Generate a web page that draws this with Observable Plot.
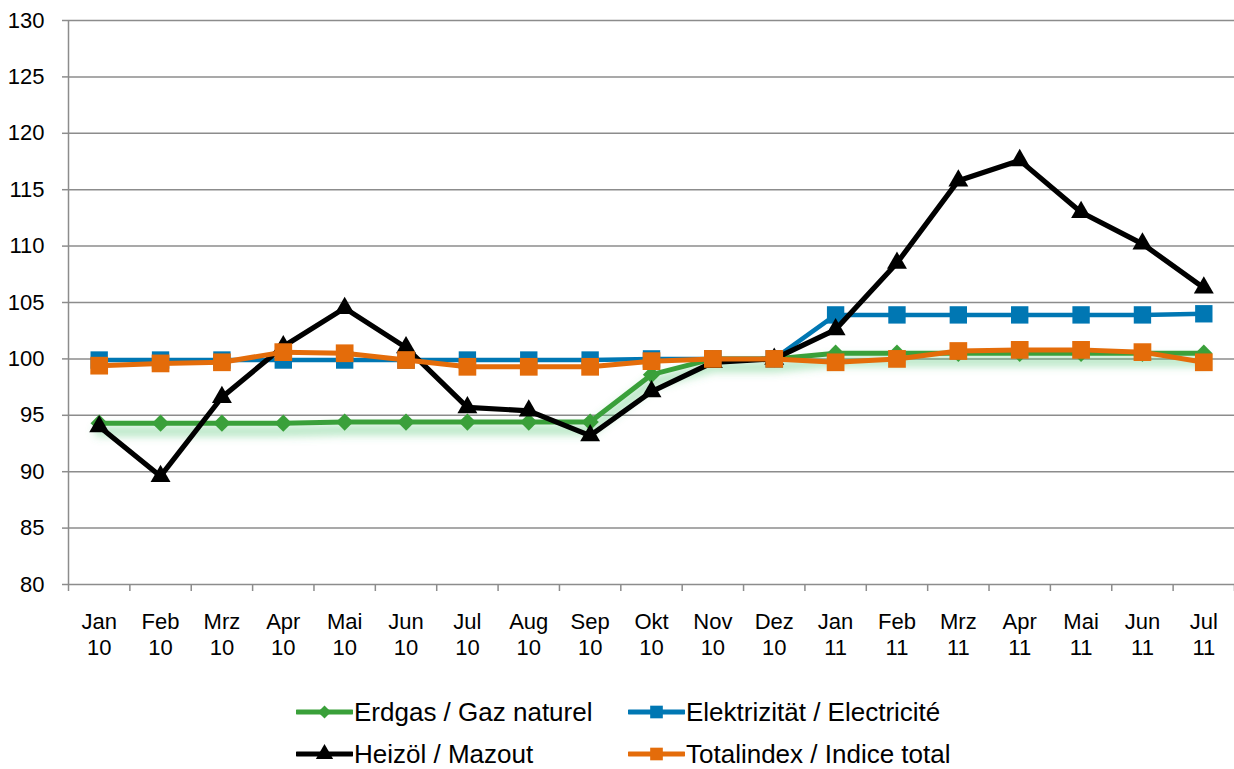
<!DOCTYPE html>
<html><head><meta charset="utf-8">
<script src="https://cdn.jsdelivr.net/npm/d3@7"></script>
<script src="https://cdn.jsdelivr.net/npm/@observablehq/plot@0.6"></script>
<style>
body{margin:0;background:#fff;font-family:"Liberation Sans",Arial,Helvetica,sans-serif;}
#wrap{position:relative;width:1234px;height:769px;overflow:hidden;background:#fff}
#legend{position:absolute;left:0;top:0;width:1234px;height:769px;pointer-events:none}
.item{position:absolute;display:flex;align-items:center;font-size:26px;color:#000;white-space:nowrap;height:30px;margin-top:-15px}
.item svg{margin-right:1px}
</style></head><body><div id="wrap"><div id="chart"></div><div id="legend"></div></div>
<script>
const months = ["Jan\n10","Feb\n10","Mrz\n10","Apr\n10","Mai\n10","Jun\n10","Jul\n10","Aug\n10","Sep\n10","Okt\n10","Nov\n10","Dez\n10","Jan\n11","Feb\n11","Mrz\n11","Apr\n11","Mai\n11","Jun\n11","Jul\n11"];
const seriesNames = ["Erdgas / Gaz naturel","Elektrizität / Electricité","Heizöl / Mazout","Totalindex / Indice total"];
const erdgas     = [94.3,94.3,94.3,94.3,94.4,94.4,94.4,94.4,94.4,98.6,100.0,100.0,100.5,100.5,100.5,100.5,100.5,100.5,100.5];
const elektrizitaet = [99.9,99.9,99.9,99.9,99.9,99.9,99.9,99.9,99.9,100.0,100.0,100.0,103.9,103.9,103.9,103.9,103.9,103.9,104.0];
const heizoel    = [94.0,89.6,96.6,101.1,104.5,101.0,95.7,95.4,93.2,97.1,99.7,100.0,102.6,108.5,115.8,117.6,113.0,110.2,106.3];
const totalindex = [99.4,99.6,99.7,100.6,100.5,99.9,99.3,99.3,99.3,99.8,100.0,100.0,99.7,100.0,100.7,100.8,100.8,100.6,99.7];
const yTicks = [80,85,90,95,100,105,110,115,120,125,130];

const seriesValues = [erdgas, elektrizitaet, heizoel, totalindex];
const styles = [
  {color:"#3AA03A", symbol:"diamond2", r:7.8, width:5, lsym:d3.symbolDiamond2, lsize:110},
  {color:"#0077B3", symbol:"square",   r:9.8, width:4.5, lsym:d3.symbolSquare, lsize:160},
  {color:"#000000", symbol:"triangle", r:7.4, width:5.2, lsym:d3.symbolTriangle, lsize:130},
  {color:"#E46C0A", symbol:"square",   r:10,  width:5, lsym:d3.symbolSquare, lsize:160}
];

const rows = seriesNames.map((name, s) => months.map((m, i) => ({i, v: seriesValues[s][i], name})));
const idx = months.map((m, i) => i);
const boundaries = months.map((m, i) => i - 0.5).concat([months.length - 0.5]);
const grey = "#8c8c8c";

const marks = [
  Plot.ruleY(yTicks, {stroke: grey, strokeWidth: 1.5}),
  Plot.ruleX([-0.5], {y1: yTicks[0], y2: yTicks[yTicks.length-1], stroke: grey, strokeWidth: 1.5}),
  Plot.axisY({ticks: yTicks, tickSize: 6, tickPadding: 18, stroke: grey, strokeWidth: 1.5, fill: "#000", fontSize: 22, label: null}),
  Plot.axisX(boundaries, {tickSize: 7, tickFormat: () => "", stroke: grey, strokeWidth: 1.5, label: null}),
  Plot.axisX(idx, {tickSize: 0, tickPadding: 25, tickFormat: i => months[i], fill: "#000", fontSize: 22, lineHeight: 1.22, label: null}),
  // soft green glow under Erdgas
  Plot.line(rows[0], {x: "i", y: "v", stroke: "#4cc46e", strokeWidth: 10, strokeOpacity: 0.42, dy: 8, ariaDescription: "glow"}),
];
rows.forEach((data, s) => {
  const st = styles[s];
  marks.push(Plot.line(data, {x: "i", y: "v", stroke: st.color, strokeWidth: st.width, strokeLinejoin: "round"}));
  marks.push(Plot.dot(data, {x: "i", y: "v", symbol: () => st.symbol, r: st.r, fill: st.color, stroke: "none"}));
});

const chart = Plot.plot({
  width: 1234, height: 670,
  marginLeft: 68, marginRight: 0, marginTop: 20, marginBottom: 86,
  x: {domain: [-0.5, months.length - 0.5], label: null},
  y: {domain: [yTicks[0], yTicks[yTicks.length-1]], label: null},
  symbol: {type: "identity"},
  style: {fontFamily: '"Liberation Sans", Arial, Helvetica, sans-serif', fontSize: "22px", background: "#fff", overflow: "visible"},
  marks
});
// blur filter for glow
const ns = "http://www.w3.org/2000/svg";
const defs = document.createElementNS(ns, "defs");
defs.innerHTML = '<filter id="glowblur" x="-5%" y="-50%" width="110%" height="200%"><feGaussianBlur stdDeviation="4"/></filter>';
chart.insertBefore(defs, chart.firstChild);
const g = chart.querySelector('[aria-description="glow"]');
if (g) g.setAttribute("filter", "url(#glowblur)");
document.getElementById("chart").appendChild(chart);

// legend
const legend = document.getElementById("legend");
const pos = [[296,712],[628,712],[296,754],[628,754]];
seriesNames.forEach((name, s) => {
  const st = styles[s];
  const div = document.createElement("div");
  div.className = "item";
  div.style.left = pos[s][0] + "px";
  div.style.top = pos[s][1] + "px";
  const path = d3.symbol(st.lsym, st.lsize)();
  div.innerHTML = `<svg width="57" height="30"><line x1="1" x2="56" y1="15" y2="15" stroke="${st.color}" stroke-width="5" stroke-linecap="round"/><path d="${path}" transform="translate(28.5,15)" fill="${st.color}"/></svg><span>${name}</span>`;
  legend.appendChild(div);
});
</script></body></html>
